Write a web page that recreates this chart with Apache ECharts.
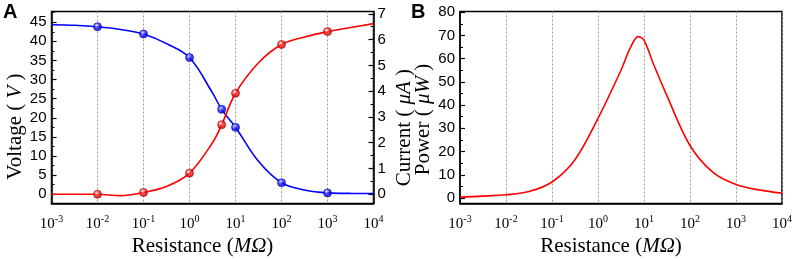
<!DOCTYPE html>
<html><head><meta charset="utf-8">
<script src="https://cdn.jsdelivr.net/npm/echarts@6/dist/echarts.min.js"></script>
<style>html,body{margin:0;padding:0;background:#fff}#c{width:796px;height:262px}</style>
</head><body><div id="c"></div>
<script>
const xMin = 0.001, xMax = 10000;
const curveR = [0.001, 0.00316, 0.01, 0.0316, 0.1, 0.316, 1, 3.16, 5, 10, 31.6, 100, 316, 1000, 3162, 10000];
const voltageCurve = [44.35, 44.2, 43.8, 43.1, 41.9, 39.4, 35.75, 26.5, 22.2, 17.5, 8.6, 3.0, 1.1, 0.35, 0.22, 0.2];
const currentCurve = [0.0, 0.0, 0.0, -0.05, 0.074, 0.3, 0.82, 2.0, 2.7, 3.92, 5.1, 5.81, 6.1, 6.31, 6.47, 6.62];
const measR = [0.01, 0.1, 1, 5, 10, 100, 1000];
const voltageMeas = [43.8, 41.9, 35.75, 22.2, 17.5, 3.0, 0.35];
const currentMeas = [0.0, 0.074, 0.82, 2.7, 3.92, 5.81, 6.31];
const powerR = [0.001, 0.00316, 0.01, 0.0316, 0.1, 0.316, 1, 3.16, 5, 7.5, 10, 15.8, 31.6, 100, 316, 1000, 3162, 10000];
const powerCurve = [0.4, 0.8, 1.4, 2.8, 6.9, 16.5, 34.3, 55, 64.5, 69.5, 68, 58, 44, 22.6, 11, 5.8, 3.5, 2.1];

const voltageTicks = [0, 5, 10, 15, 20, 25, 30, 35, 40, 45];
const voltageMinor = [2.5, 7.5, 12.5, 17.5, 22.5, 27.5, 32.5, 37.5, 42.5, 47.5];
const currentTicks = [0, 1, 2, 3, 4, 5, 6, 7];
const currentMinor = [0.5, 1.5, 2.5, 3.5, 4.5, 5.5, 6.5];
const powerTicks = [0, 10, 20, 30, 40, 50, 60, 70, 80];
const powerMinor = [5, 15, 25, 35, 45, 55, 65, 75];

const pairs = (xs, ys) => xs.map((x, i) => [x, ys[i]]);
const serif = '"Liberation Serif", "Times New Roman", serif';
const sans = '"Liberation Sans", Arial, sans-serif';

function xAxisOf(gi) {
  return {
    type: 'log', logBase: 10, min: xMin, max: xMax, gridIndex: gi,
    axisLine: { show: true, onZero: false, lineStyle: { color: '#000', width: 1.5 } },
    axisTick: { show: false },
    splitLine: { show: true, lineStyle: { type: [2, 2], color: '#9a9a9a', width: 1 } },
    axisLabel: {
      margin: 11, color: '#000',
      formatter: v => '{b|10}{s|' + Math.round(Math.log10(v)) + '}',
      rich: {
        b: { fontFamily: serif, fontSize: 15, color: '#000' },
        s: { fontFamily: serif, fontSize: 10, color: '#000', verticalAlign: 'top', padding: [0, 0, 8, 0] }
      }
    },
    name: 'Resistance ({i|MΩ})', nameLocation: 'middle', nameGap: 22,
    nameTextStyle: {
      fontFamily: serif, fontSize: 21, color: '#000', padding: [0, 20, 0, 0],
      rich: { i: { fontFamily: serif, fontSize: 21, fontStyle: 'italic', color: '#000' } }
    }
  };
}
function yAxisOf(gi, pos, min, max, ticks, name, gap, labelMargin, namePad) {
  return {
    type: 'value', gridIndex: gi, position: pos, min: min, max: max,
    axisLine: { show: true, onZero: false, lineStyle: { color: '#000', width: 1.5 } },
    axisTick: { show: true, inside: true, length: 5, customValues: ticks, lineStyle: { color: '#000', width: 1.2 } },
    splitLine: { show: false },
    axisLabel: { fontFamily: sans, fontSize: 15, color: '#000', margin: labelMargin, customValues: ticks },
    name: name, nameLocation: 'middle', nameGap: gap, nameRotate: 90,
    nameTextStyle: {
      fontFamily: serif, fontSize: 21, color: '#000', padding: namePad,
      rich: { i: { fontFamily: serif, fontSize: 21, fontStyle: 'italic', color: '#000' } }
    }
  };
}
function minorAxisOf(gi, pos, min, max, ticks) {
  return {
    type: 'value', gridIndex: gi, position: pos, min: min, max: max,
    axisLine: { show: false, onZero: false },
    axisTick: { show: true, inside: true, length: 3, customValues: ticks, lineStyle: { color: '#000', width: 1 } },
    splitLine: { show: false },
    axisLabel: { show: false }
  };
}
function dot(color, dark) {
  return {
    color: { type: 'radial', x: 0.4, y: 0.35, r: 0.65,
      colorStops: [{ offset: 0, color: '#ffffff' }, { offset: 0.45, color: color }, { offset: 1, color: dark }] },
    borderColor: dark, borderWidth: 0.8
  };
}

const chart = echarts.init(document.getElementById('c'), null, { renderer: 'canvas' });
chart.setOption({
  animation: false,
  backgroundColor: '#fff',
  grid: [
    { left: 51.5, top: 11.5, width: 322, height: 201, show: true, borderColor: '#000', borderWidth: 1.5, backgroundColor: 'transparent' },
    { left: 460, top: 11.5, width: 322, height: 201, show: true, borderColor: '#000', borderWidth: 1.5, backgroundColor: 'transparent' }
  ],
  xAxis: [xAxisOf(0), xAxisOf(1)],
  yAxis: [
    yAxisOf(0, 'left', -2.45, 47.8, voltageTicks, 'Voltage ( {i|V} )', 26, 5, [0, 38, 0, 0]),
    yAxisOf(0, 'right', -0.36, 7.09, currentTicks, 'Current ( {i|μA} )', 20, 4, [0, 40, 0, 0]),
    yAxisOf(1, 'left', -2.4, 80.3, powerTicks, 'Power ( {i|μW} )', 25, 5, [0, 24, 0, 0]),
    minorAxisOf(0, 'left', -2.45, 47.8, voltageMinor),
    minorAxisOf(0, 'right', -0.36, 7.09, currentMinor),
    minorAxisOf(1, 'left', -2.4, 80.3, powerMinor)
  ],
  graphic: [
    { type: 'text', left: 3, top: 2, style: { text: 'A', font: 'bold 20px ' + sans, fill: '#000' } },
    { type: 'text', left: 411, top: 2, style: { text: 'B', font: 'bold 20px ' + sans, fill: '#000' } }
  ],
  series: [
    { type: 'line', xAxisIndex: 0, yAxisIndex: 0, data: pairs(curveR, voltageCurve), smooth: 0.35,
      showSymbol: false, lineStyle: { color: '#0000ff', width: 1.6 }, z: 3 },
    { type: 'line', xAxisIndex: 0, yAxisIndex: 1, data: pairs(curveR, currentCurve), smooth: 0.35,
      showSymbol: false, lineStyle: { color: '#ff0000', width: 1.6 }, z: 3 },
    { type: 'scatter', xAxisIndex: 0, yAxisIndex: 0, data: pairs(measR, voltageMeas), symbolSize: 8,
      itemStyle: dot('#1a1aff', '#0000b0'), z: 4 },
    { type: 'scatter', xAxisIndex: 0, yAxisIndex: 1, data: pairs(measR, currentMeas), symbolSize: 8,
      itemStyle: dot('#ff2020', '#b00000'), z: 4 },
    { type: 'line', xAxisIndex: 1, yAxisIndex: 2, data: pairs(powerR, powerCurve), smooth: 0.35,
      showSymbol: false, lineStyle: { color: '#ff0000', width: 1.6 }, z: 3 }
  ]
});
</script>
</body></html>
